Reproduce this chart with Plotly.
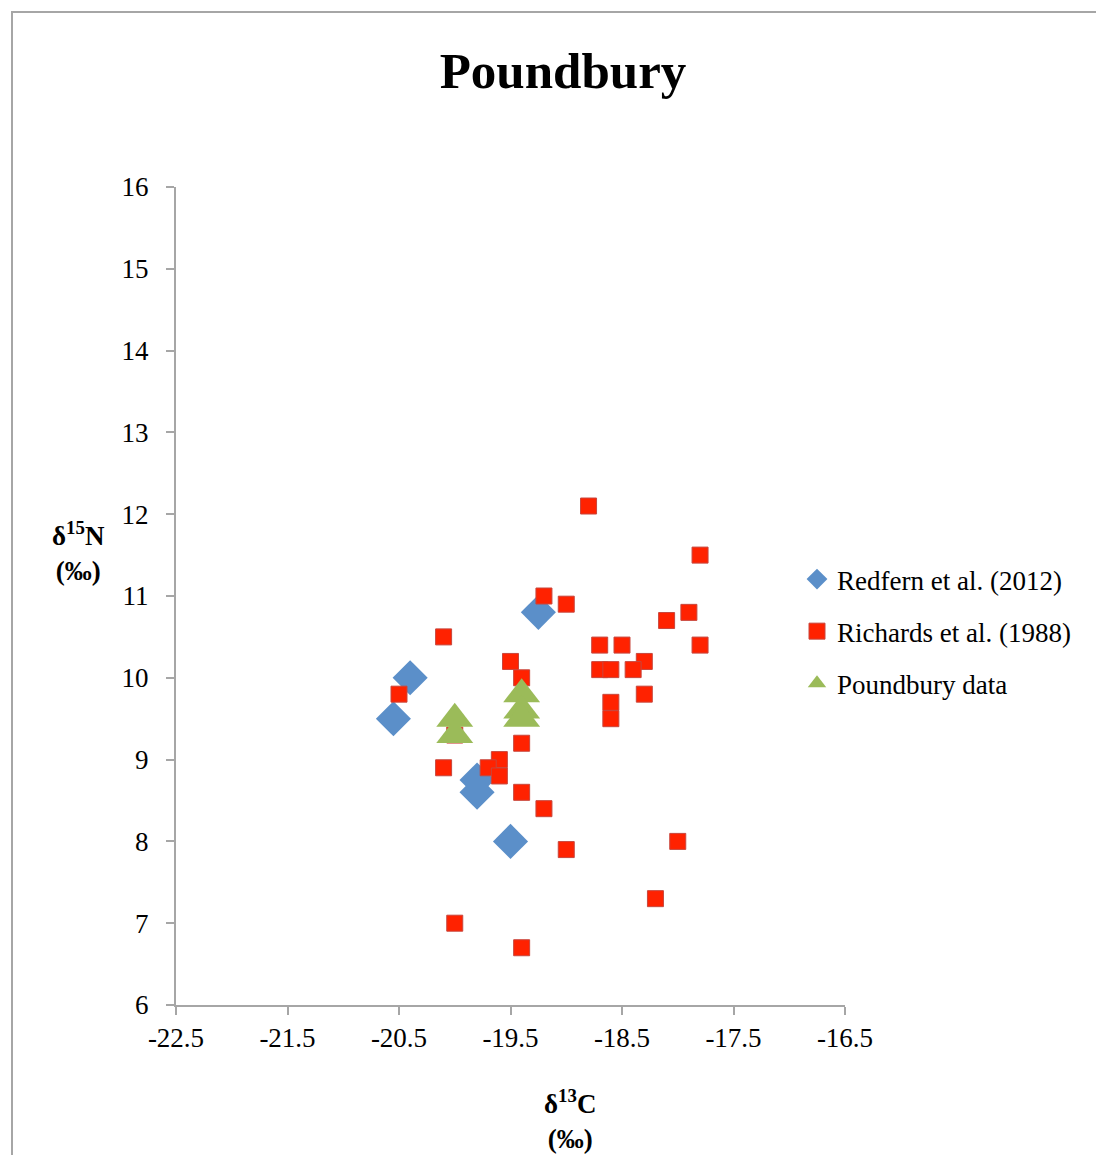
import plotly.graph_objects as go

# Data
redfern_x = [-20.55, -20.4, -19.25, -19.8, -19.8, -19.5]
redfern_y = [9.5, 10.0, 10.8, 8.75, 8.6, 8.0]

richards_x = [-18.8, -17.8, -19.2, -19.0, -17.9, -18.1, -20.1, -18.7, -18.5, -17.8,
              -19.5, -18.3, -18.7, -18.6, -18.4, -19.4, -20.5, -18.3, -18.6, -18.6,
              -20.0, -19.4, -19.6, -20.1, -19.7, -19.6, -19.4, -19.2, -18.0, -19.0,
              -18.2, -20.0, -19.4]
richards_y = [12.1, 11.5, 11.0, 10.9, 10.8, 10.7, 10.5, 10.4, 10.4, 10.4,
              10.2, 10.2, 10.1, 10.1, 10.1, 10.0, 9.8, 9.8, 9.7, 9.5,
              9.3, 9.2, 9.0, 8.9, 8.9, 8.8, 8.6, 8.4, 8.0, 7.9,
              7.3, 7.0, 6.7]

poundbury_x = [-20.0, -20.0, -19.4, -19.4, -19.4]
poundbury_y = [9.5, 9.3, 9.8, 9.6, 9.5]

x_ticks = [-22.5, -21.5, -20.5, -19.5, -18.5, -17.5, -16.5]
y_ticks = [6, 7, 8, 9, 10, 11, 12, 13, 14, 15, 16]

FONT = "Liberation Serif"

fig = go.Figure()
fig.add_trace(go.Scatter(
    x=redfern_x, y=redfern_y, mode="markers", name="Redfern et al. (2012)",
    legendgroup="a",
    marker=dict(symbol="diamond", size=27, color="#5B8FC9", line=dict(width=0))))
fig.add_trace(go.Scatter(
    x=richards_x, y=richards_y, mode="markers", name="Richards et al. (1988)",
    legendgroup="b",
    marker=dict(symbol="square", size=16, color="#FF2200", line=dict(width=1, color="#C8463C"))))
fig.add_trace(go.Scatter(
    x=poundbury_x, y=poundbury_y, mode="markers", name="Poundbury data",
    legendgroup="c",
    marker=dict(symbol="triangle-up", size=32, color="#9BBB59", line=dict(width=0))))

OFF = 8  # page body margin
W, H = 1096, 1147
L, T = 176 - OFF, 187 - OFF
pw, ph = 845 - 176, 1005 - 187
R, B = W - L - pw, H - T - ph

def px(xp):
    return (xp - OFF - L) / pw

def py(yp):
    return 1 - (yp - OFF - T) / ph

fig.update_layout(
    width=W, height=H,
    margin=dict(l=L, r=R, t=T, b=B, autoexpand=False),
    paper_bgcolor="white", plot_bgcolor="white",
    font=dict(family=FONT, size=26, color="black"),
    title=dict(text="<b>Poundbury</b>", x=(563 - OFF) / W, xanchor="center",
               y=1 - (70 - OFF) / H, yanchor="middle",
               font=dict(family=FONT, size=51, color="black")),
    xaxis=dict(range=[-22.5, -16.5], tickvals=x_ticks, ticktext=[str(v) for v in x_ticks],
               showgrid=False, zeroline=False, showline=True, linecolor="#A6A6A6", linewidth=2,
               ticks="outside", ticklen=8, tickcolor="#A6A6A6", tickwidth=2,
               tickfont=dict(family=FONT, size=27)),
    yaxis=dict(range=[6, 16], tickvals=y_ticks, showgrid=False, zeroline=False,
               showline=True, linecolor="#A6A6A6", linewidth=2,
               ticks="outside", ticklen=8, tickcolor="#A6A6A6", tickwidth=2,
               ticklabelstandoff=12,
               tickfont=dict(family=FONT, size=27)),
    legend=dict(x=px(797), y=py(555), xanchor="left", yanchor="top",
                font=dict(family=FONT, size=27), tracegroupgap=14,
                itemwidth=30, bgcolor="rgba(0,0,0,0)"),
    showlegend=True,
)

fig.add_annotation(text="<b>δ<sup>15</sup>N<br>(‰)</b>", xref="paper", yref="paper",
                   x=px(78), y=py(551), showarrow=False,
                   xanchor="center", yanchor="middle", align="center",
                   font=dict(family=FONT, size=27))
fig.add_annotation(text="<b>δ<sup>13</sup>C<br>(‰)</b>", xref="paper", yref="paper",
                   x=px(570), y=py(1119), showarrow=False,
                   xanchor="center", yanchor="middle", align="center",
                   font=dict(family=FONT, size=27))

# outer chart border
fig.add_shape(type="rect", xref="paper", yref="paper",
              x0=px(12), x1=px(1130),
              y0=py(1180), y1=py(12),
              line=dict(color="#A6A6A6", width=2), fillcolor="rgba(0,0,0,0)", layer="below")

fig.write_html("out.html")
